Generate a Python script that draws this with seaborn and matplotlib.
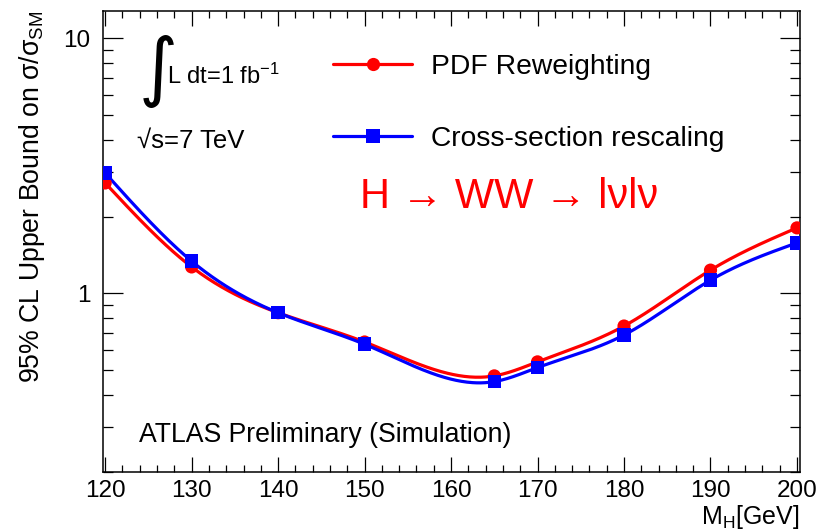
import numpy as np
import pandas as pd
import matplotlib
matplotlib.use("Agg")
import matplotlib.pyplot as plt
import seaborn as sns
from matplotlib.lines import Line2D
from matplotlib.ticker import FixedLocator, LogLocator, NullFormatter, FixedFormatter, MultipleLocator

# ---------------- data ----------------
mass = [120, 130, 140, 150, 165, 170, 180, 190, 200]
pdf_reweighting = [2.71, 1.27, 0.84, 0.645, 0.475, 0.539, 0.745, 1.234, 1.807]
xsec_rescaling = [2.965, 1.338, 0.84, 0.632, 0.451, 0.512, 0.687, 1.127, 1.578]
series_names = ["PDF Reweighting", "Cross-section rescaling"]
series_colors = ["#ff0000", "#0000ff"]
series_markers = ["o", "s"]
xtick_values = [120, 130, 140, 150, 160, 170, 180, 190, 200]
ytick_values = [1, 10]
ytick_labels = ["1", "10"]

sns.set_style("white")
plt.rcParams["font.family"] = ["Liberation Sans", "DejaVu Sans"]
plt.rcParams["mathtext.default"] = "regular"
for k in ["text.color", "axes.labelcolor", "xtick.color", "ytick.color", "axes.edgecolor"]:
    plt.rcParams[k] = "black"


def smooth_curve(x, y, xs):
    """Natural cubic spline used only to draw the smooth connecting line."""
    x = np.asarray(x, float)
    y = np.asarray(y, float)
    n = len(x)
    h = np.diff(x)
    A = np.zeros((n, n))
    b = np.zeros(n)
    A[0, 0] = A[-1, -1] = 1.0
    for i in range(1, n - 1):
        A[i, i - 1] = h[i - 1]
        A[i, i] = 2 * (h[i - 1] + h[i])
        A[i, i + 1] = h[i]
        b[i] = 3 * ((y[i + 1] - y[i]) / h[i] - (y[i] - y[i - 1]) / h[i - 1])
    c = np.linalg.solve(A, b)
    bb = (y[1:] - y[:-1]) / h - h * (2 * c[:-1] + c[1:]) / 3
    d = (c[1:] - c[:-1]) / (3 * h)
    idx = np.clip(np.searchsorted(x, xs) - 1, 0, n - 2)
    dx = xs - x[idx]
    return y[idx] + bb[idx] * dx + c[idx] * dx ** 2 + d[idx] * dx ** 3


fig = plt.figure(figsize=(8.33, 5.31), dpi=100)
ax = fig.add_axes([103 / 833, 1 - 471.7 / 531, 697 / 833, (471.7 - 11) / 531])

handles = []
for name, vals, col, mk in zip(series_names, [pdf_reweighting, xsec_rescaling],
                               series_colors, series_markers):
    xs = np.linspace(mass[0], mass[-1], 500)
    ys = 10 ** smooth_curve(mass, np.log10(vals), xs)
    curve = pd.DataFrame({"x": xs, "y": ys})
    pts = pd.DataFrame({"x": mass, "y": vals})
    sns.lineplot(data=curve, x="x", y="y", color=col, lw=2.3, ax=ax, sort=False, zorder=3)
    sns.scatterplot(data=pts, x="x", y="y", color=col, marker=mk,
                    s=90 if mk == "o" else 95, edgecolor="none", linewidth=0, ax=ax, zorder=4)
    handles.append(Line2D([0], [0], color=col, lw=2.3, marker=mk, markersize=9.5,
                          markeredgewidth=0, label=name))

ax.set_yscale("log")
ax.set_xlim(119.75, 200.35)
ax.set_ylim(0.2, 12.8)

ax.xaxis.set_major_locator(FixedLocator(xtick_values))
ax.xaxis.set_minor_locator(MultipleLocator(2))
ax.yaxis.set_major_locator(FixedLocator(ytick_values))
ax.yaxis.set_major_formatter(FixedFormatter(ytick_labels))
ax.yaxis.set_minor_locator(LogLocator(base=10, subs=np.arange(2, 10)))
ax.yaxis.set_minor_formatter(NullFormatter())

ax.tick_params(axis="x", which="major", direction="in", length=11, width=0.9,
               top=True, bottom=True, labelsize=17.5, pad=6)
ax.tick_params(axis="x", which="minor", direction="in", length=5, width=0.9,
               top=True, bottom=True)
ax.tick_params(axis="y", which="major", direction="in", length=14.5, width=0.9,
               left=True, right=True, labelsize=17.5, pad=9)
ax.tick_params(axis="y", which="minor", direction="in", length=7.5, width=0.9,
               left=True, right=True)
for s in ax.spines.values():
    s.set_linewidth(1.1)
    s.set_color("black")

ax.set_xlabel("M$_{H}$[GeV]", fontsize=18, loc="right")
ax.xaxis.set_label_coords(1.0, -0.068)
ax.set_ylabel("95% CL Upper Bound on σ/σ$_{SM}$", fontsize=19.2, loc="top")
ax.yaxis.set_label_coords(-0.08, 1.0)

fs_leg = 20.3
leg = ax.legend(handles=handles, loc="upper left", frameon=False,
                bbox_to_anchor=(322 / 833, 1 - 43 / 531), bbox_transform=fig.transFigure,
                fontsize=fs_leg, handlelength=2.8, handletextpad=0.68, labelspacing=1.62,
                borderaxespad=0)

fig.text(139 / 833, 1 - 71 / 531, "∫", fontsize=54, va="center", ha="left",
         family=["DejaVu Sans"])
fig.text(167 / 833, 1 - 84 / 531, "L dt=1 fb$^{-1}$", fontsize=17, va="baseline", ha="left")
fig.text(137 / 833, 1 - 148 / 531, "√s=7 TeV", fontsize=18.5, va="baseline", ha="left")
fig.text(360 / 833, 1 - 197 / 531, "H → WW → lνlν", fontsize=30, color="#ff0000",
         va="center", ha="left")
fig.text(139 / 833, 1 - 442 / 531, "ATLAS Preliminary (Simulation)", fontsize=19.2,
         va="baseline", ha="left")

fig.savefig("out.png", dpi=100)
